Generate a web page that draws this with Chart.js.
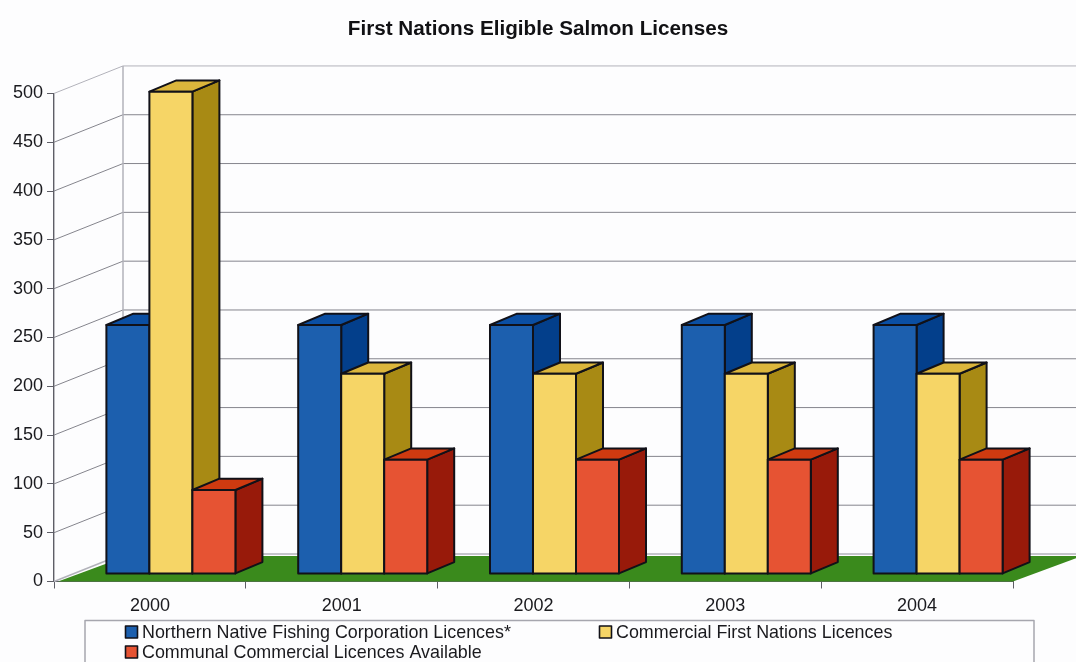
<!DOCTYPE html>
<html>
<head>
<meta charset="utf-8">
<title>First Nations Eligible Salmon Licenses</title>
<script src="https://cdn.jsdelivr.net/npm/chart.js@4"></script>
<style>
    html, body { margin: 0; padding: 0; background: #fdfdfe; }
    canvas { display: block; }
</style>
</head>
<body>
<canvas id="licenceChart" width="1076" height="662"></canvas>
<script>
// Values
const categories = ['2000', '2001', '2002', '2003', '2004'];
const northernLicences = [255, 255, 255, 255, 255];
const commercialLicences = [494, 205, 205, 205, 205];
const communalLicences = [86, 117, 117, 117, 117];

const seriesNames = [
    'Northern Native Fishing Corporation Licences*',
    'Commercial First Nations Licences',
    'Communal Commercial Licences Available'
];

// Front, top and side colour of each series
const frontColors = ['#1c5fae', '#f6d566', '#e65333'];
const topColors = ['#0b4fa3', '#dcb63c', '#cf3a10'];
const sideColors = ['#033f8b', '#a88a14', '#981a0a'];

const fontFamily = '"Liberation Sans", Arial, sans-serif';
const textColor = '#1a1a1e';

// Depth of the box and how far the bars sit inside it
const wallDx = 69, wallDy = -27.5;
const barShiftX = 21, barShiftY = -7.6;
const barDepthX = 27, barDepthY = -11.3;

function polygon(ctx, points, fill, stroke, lineWidth) {
    ctx.beginPath();
    points.forEach((p, i) => i ? ctx.lineTo(p[0], p[1]) : ctx.moveTo(p[0], p[1]));
    ctx.closePath();
    if (fill) {
        ctx.fillStyle = fill;
        ctx.fill();
    }
    if (stroke) {
        ctx.strokeStyle = stroke;
        ctx.lineWidth = lineWidth;
        ctx.lineJoin = 'round';
        ctx.stroke();
    }
}

function line(ctx, x1, y1, x2, y2, color, width) {
    ctx.beginPath();
    ctx.moveTo(x1, y1);
    ctx.lineTo(x2, y2);
    ctx.strokeStyle = color;
    ctx.lineWidth = width;
    ctx.stroke();
}

// Back wall, floor and the bent grid lines
function drawBox(chart) {
    const ctx = chart.ctx;
    const area = chart.chartArea;
    const yScale = chart.scales.y;
    const backLeft = area.left + wallDx;
    const backRight = area.right + wallDx;

    yScale.ticks.forEach(tick => {
        if (tick.value === 0) return;
        const y = yScale.getPixelForValue(tick.value);
        const color = tick.value === 500 ? '#b2b2ba' : '#85858d';
        line(ctx, area.left, y, backLeft, y + wallDy, color, 1);
        line(ctx, backLeft, y + wallDy, backRight, y + wallDy, color, 1);
    });

    const floorY = yScale.getPixelForValue(0);
    line(ctx, backLeft, area.top + wallDy, backLeft, floorY + wallDy, '#b2b2ba', 1.5);
    line(ctx, area.left, floorY, backLeft, floorY + wallDy, '#b2b2ba', 1.5);
    line(ctx, backLeft, floorY + wallDy, backRight, floorY + wallDy, '#b2b2ba', 1.5);
    polygon(ctx, [
        [area.left + 4, floorY],
        [area.right, floorY],
        [backRight, floorY + wallDy + 2],
        [backLeft + 4, floorY + wallDy + 2]
    ], '#3a8a1c');
}

// Bars are drawn blue first so the next series covers the side face
function drawBars(chart) {
    const ctx = chart.ctx;
    chart.data.datasets.forEach((dataset, d) => {
        chart.getDatasetMeta(d).data.forEach(bar => {
            const left = bar.x - bar.width / 2 + barShiftX;
            const right = bar.x + bar.width / 2 + barShiftX;
            const top = bar.y + barShiftY;
            const bottom = bar.base + barShiftY;
            polygon(ctx, [
                [right, top], [right + barDepthX, top + barDepthY],
                [right + barDepthX, bottom + barDepthY], [right, bottom]
            ], sideColors[d], '#111118', 2);
            polygon(ctx, [
                [left, top], [left + barDepthX, top + barDepthY],
                [right + barDepthX, top + barDepthY], [right, top]
            ], topColors[d], '#111118', 2);
            polygon(ctx, [
                [left, top], [right, top], [right, bottom], [left, bottom]
            ], frontColors[d], '#111118', 2);
        });
    });
}

// Legend has two columns inside a frame, which the built-in one can't do
function drawLegend(chart) {
    const ctx = chart.ctx;
    const slots = [[125.5, 632], [599.5, 632], [125.5, 652]];
    ctx.strokeStyle = '#a6a6ae';
    ctx.lineWidth = 1.5;
    ctx.strokeRect(85, 620.5, 949, 60);
    ctx.font = '17.9px ' + fontFamily;
    ctx.textBaseline = 'middle';
    ctx.textAlign = 'left';
    chart.data.datasets.forEach((dataset, d) => {
        const [x, y] = slots[d];
        ctx.fillStyle = frontColors[d];
        ctx.fillRect(x, y - 6, 12, 12);
        ctx.strokeStyle = '#111118';
        ctx.lineWidth = 1.6;
        ctx.strokeRect(x, y - 6, 12, 12);
        ctx.fillStyle = textColor;
        ctx.fillText(dataset.label, x + 16.5, y + 1);
    });
}

const box3dPlugin = {
    id: 'box3d',
    // Title belongs to the whole page, not to the plot width
    afterLayout(chart) {
        chart.titleBlock.right = chart.width;
    },
    beforeDatasetsDraw(chart) {
        drawBox(chart);
        drawBars(chart);
        drawLegend(chart);
        return false;
    }
};

new Chart(document.getElementById('licenceChart'), {
    type: 'bar',
    data: {
        labels: categories,
        datasets: [
            { label: seriesNames[0], data: northernLicences, backgroundColor: frontColors[0] },
            { label: seriesNames[1], data: commercialLicences, backgroundColor: frontColors[1] },
            { label: seriesNames[2], data: communalLicences, backgroundColor: frontColors[2] }
        ]
    },
    options: {
        responsive: false,
        animation: false,
        categoryPercentage: 0.6726,
        barPercentage: 1,
        layout: {
            padding: { left: 0, right: 63, top: 0, bottom: 40.5 }
        },
        plugins: {
            legend: { display: false },
            tooltip: { enabled: false },
            title: {
                display: true,
                text: 'First Nations Eligible Salmon Licenses',
                color: '#111114',
                font: { family: fontFamily, size: 20.7, weight: 'bold', lineHeight: 1.2 },
                padding: { top: 16.6, bottom: 52 }
            }
        },
        scales: {
            x: {
                afterFit: scale => { scale.height = 40; },
                border: { color: '#5e5e66', width: 1 },
                grid: { drawOnChartArea: false, color: '#5e5e66', tickLength: 7 },
                ticks: {
                    color: textColor,
                    padding: 7,
                    maxRotation: 0,
                    font: { family: fontFamily, size: 18 }
                }
            },
            y: {
                min: 0,
                max: 500,
                afterFit: scale => { scale.width = 54; },
                border: { color: '#5e5e66', width: 1.4 },
                grid: { drawOnChartArea: false, color: '#5e5e66', tickLength: 7 },
                ticks: {
                    stepSize: 50,
                    color: textColor,
                    padding: 4,
                    font: { family: fontFamily, size: 18 }
                }
            }
        }
    },
    plugins: [box3dPlugin]
});
</script>
</body>
</html>
